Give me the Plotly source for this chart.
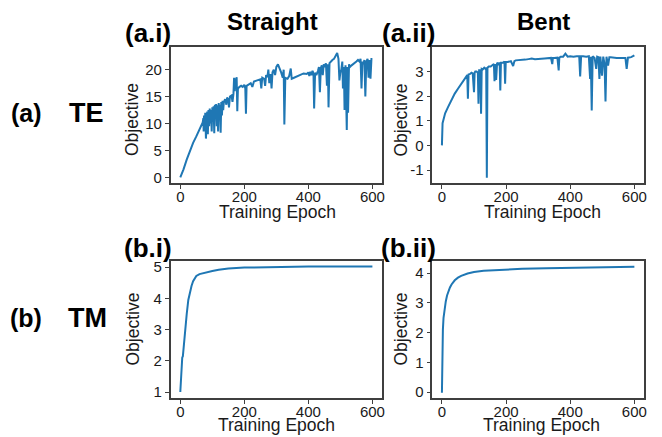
import plotly.graph_objects as go

# ---------------- data ----------------
te_straight_epoch = [0, 5, 10, 20, 30, 40, 50, 60, 70, 72, 73, 74, 76, 78, 80, 82, 84, 86, 88, 90, 92, 94, 96, 98,
                     100, 102, 104, 106, 108, 110, 112, 114, 116, 118, 120, 122, 124, 126, 128, 130, 132, 134, 136,
                     140, 144, 146, 150, 152, 155, 160, 163, 166, 168, 170, 172, 174, 176, 178, 180, 185, 190, 195,
                     200, 203, 205, 207, 215, 220, 225, 230, 240, 250, 253, 256, 262, 265, 268, 272, 275, 278, 282,
                     285, 288, 292, 296, 300, 305, 310, 315, 320, 323, 325, 328, 335, 340, 345, 348, 355, 365, 375,
                     385, 395, 400, 403, 406, 410, 413, 416, 418, 421, 425, 430, 433, 436, 439, 442, 445, 448, 452,
                     455, 458, 461, 463, 466, 470, 475, 480, 485, 490, 494, 497, 500, 503, 506, 508, 511, 513, 516,
                     518, 520, 522, 524, 527, 530, 535, 540, 545, 550, 555, 560, 563, 566, 569, 572, 575, 578, 581,
                     585, 588, 591, 594, 597, 600]
te_straight_obj = [0.0, 0.6, 1.5, 3.3, 5.0, 6.4, 7.6, 8.8, 10.2, 11.0, 8.5, 11.5, 9.0, 12.0, 7.2, 11.5, 12.2, 8.0,
                   12.5, 9.5, 12.8, 10.0, 12.5, 8.5, 13.0, 10.5, 13.2, 8.2, 13.5, 11.0, 13.6, 9.5, 13.4, 8.5, 13.8,
                   12.0, 13.5, 8.3, 14.0, 11.5, 14.2, 12.5, 14.0, 14.5, 13.5, 14.8, 14.5, 13.0, 15.0, 15.2, 14.0,
                   15.5, 18.5, 16.0, 18.4, 17.0, 18.6, 12.3, 16.5, 16.8, 17.0, 16.8, 17.2, 16.5, 11.8, 17.0, 17.3,
                   17.5, 16.8, 17.8, 18.0, 18.2, 16.5, 18.5, 18.3, 17.0, 19.0, 18.6, 20.0, 17.5, 19.2, 16.5, 19.5,
                   20.0, 19.0, 20.5, 21.0, 20.3, 19.5, 18.5, 20.0, 9.8, 18.5, 18.3, 18.8, 20.2, 18.3, 18.5, 18.8,
                   19.0, 19.3, 19.2, 19.5, 18.8, 19.6, 19.0, 19.8, 19.3, 12.8, 19.4, 19.0, 19.8, 20.5, 15.8, 20.3,
                   20.8, 19.0, 21.0, 20.5, 21.2, 17.0, 21.0, 13.0, 21.2, 21.5, 21.8, 22.0, 22.5, 23.1, 22.0, 18.0,
                   19.5, 20.0, 21.5, 16.5, 20.5, 12.5, 20.8, 13.5, 8.8, 20.5, 12.0, 21.0, 20.5, 20.8, 21.0, 21.2,
                   21.5, 21.8, 21.5, 22.0, 16.5, 21.5, 21.0, 21.8, 15.0, 21.5, 22.0, 18.5, 21.8, 18.3, 22.0, 22.0]

te_bent_epoch = [0, 1, 2, 5, 10, 19, 30, 40, 50, 65, 76, 79, 81, 83, 88, 92, 96, 100, 102, 104, 108, 112, 114,
                 116, 120, 122, 124, 127, 132, 136, 138, 140, 142, 146, 152, 158, 162, 164, 166, 169, 172, 176,
                 180, 182, 184, 190, 195, 197, 199, 205, 215, 222, 226, 230, 240, 250, 260, 270, 280, 290, 300,
                 310, 320, 330, 340, 344, 346, 350, 360, 364, 366, 370, 378, 385, 392, 400, 410, 420, 428, 431,
                 434, 440, 450, 458, 462, 464, 467, 470, 476, 481, 484, 488, 491, 494, 499, 503, 507, 510, 513,
                 518, 522, 526, 535, 545, 555, 565, 572, 576, 580, 590, 600]
te_bent_obj = [0.0, 0.8, 0.9, 1.05, 1.3, 1.55, 1.85, 2.1, 2.3, 2.56, 2.8, 2.85, 1.89, 2.88, 2.9, 2.95, 2.92, 2.16,
               2.95, 3.0, 3.0, 2.95, 1.69, 3.05, 3.05, 1.28, 3.1, 3.08, 3.15, 3.1, 3.15, -1.31, 3.15, 3.2, 3.2,
               3.25, 3.3, 2.6, 3.3, 2.66, 3.35, 3.3, 3.35, 2.23, 3.35, 3.35, 3.4, 2.5, 3.38, 3.38, 3.42, 3.22, 3.42,
               3.45, 3.45, 3.48, 3.48, 3.5, 3.52, 3.5, 3.52, 3.52, 3.53, 3.55, 3.55, 3.3, 3.55, 3.55, 3.56, 3.04,
               3.56, 3.6, 3.6, 3.72, 3.6, 3.62, 3.6, 3.62, 3.62, 2.8, 3.62, 3.62, 3.6, 3.62, 2.7, 3.6, 1.42, 3.62,
               3.55, 3.1, 3.6, 3.58, 2.7, 3.6, 2.83, 3.6, 3.3, 1.78, 3.6, 3.24, 3.58, 3.58, 3.56, 3.55, 3.55, 3.55,
               3.55, 3.1, 3.56, 3.58, 3.65]

tm_straight_epoch = [0, 2, 4, 6, 8, 10, 13, 16, 20, 25, 30, 35, 40, 45, 50, 60, 70, 80, 100, 120, 150, 200, 250,
                     300, 400, 500, 600]
tm_straight_obj = [1.0, 1.5, 1.9, 2.1, 2.15, 2.4, 2.8, 3.1, 3.5, 3.95, 4.2, 4.4, 4.55, 4.65, 4.72, 4.78, 4.81,
                   4.84, 4.88, 4.92, 4.96, 4.99, 5.0, 5.01, 5.02, 5.02, 5.02]

tm_bent_epoch = [0, 1, 2, 3, 5, 8, 12, 16, 20, 25, 30, 40, 50, 60, 80, 100, 130, 170, 250, 325, 400, 500, 600]
tm_bent_obj = [-0.02, 1.0, 1.7, 2.1, 2.5, 2.8, 3.05, 3.25, 3.38, 3.52, 3.62, 3.76, 3.85, 3.91, 3.99, 4.04, 4.08,
               4.11, 4.15, 4.17, 4.19, 4.2, 4.22]

x_ticks = [0, 200, 400, 600]
y_ticks_te_straight = [0, 5, 10, 15, 20]
y_ticks_te_bent = [-1, 0, 1, 2, 3]
y_ticks_te_bent_text = ["-1", "0", "1", "2", "3"]
y_ticks_tm_straight = [1, 2, 3, 4, 5]
y_ticks_tm_bent = [0, 1, 2, 3, 4]

col_titles = ["Straight", "Bent"]
panel_labels = ["(a.i)", "(a.ii)", "(b.i)", "(b.ii)"]
row_labels = [("(a)", "TE"), ("(b)", "TM")]
x_title = "Training Epoch"
y_title = "Objective"

# ---------------- figure ----------------
W, H = 662, 437
FONT = "Liberation Sans, Arial, Helvetica, sans-serif"
C0 = "#1f77b4"
FRAME = "#3f3f3f"

def px_x(p):
    return p / W

def px_y(p):
    return 1 - p / H

fig = go.Figure()
series = [
    (te_straight_epoch, te_straight_obj, "x", "y"),
    (te_bent_epoch, te_bent_obj, "x2", "y2"),
    (tm_straight_epoch, tm_straight_obj, "x3", "y3"),
    (tm_bent_epoch, tm_bent_obj, "x4", "y4"),
]
for xs, ys, xa, ya in series:
    fig.add_trace(go.Scatter(x=xs, y=ys, mode="lines", xaxis=xa, yaxis=ya,
                             line=dict(color=C0, width=2), showlegend=False))

col_dom = [[px_x(170.7), px_x(382)], [px_x(432.3), px_x(644)]]
row_dom = [[px_y(183.3), px_y(47.3)], [px_y(398.3), px_y(261)]]

common = dict(showline=True, mirror=True, linecolor=FRAME, linewidth=1.5, showgrid=False, zeroline=False,
              ticks="outside", ticklen=4, tickwidth=1.2, tickcolor=FRAME,
              tickfont=dict(family=FONT, size=15, color="#1a1a1a"))

y_specs = [
    ([-1.1, 24.15], y_ticks_te_straight, [str(v) for v in y_ticks_te_straight]),
    ([-1.54, 3.98], y_ticks_te_bent, y_ticks_te_bent_text),
    ([0.8, 5.2], y_ticks_tm_straight, [str(v) for v in y_ticks_tm_straight]),
    ([-0.21, 4.41], y_ticks_tm_bent, [str(v) for v in y_ticks_tm_bent]),
]
layout_axes = {}
for i in range(4):
    r, c = divmod(i, 2)
    sfx = "" if i == 0 else str(i + 1)
    layout_axes["xaxis" + sfx] = dict(common, domain=col_dom[c], anchor="y" + sfx, range=[-30, 630],
                                      tickvals=x_ticks, ticktext=[str(v) for v in x_ticks],
                                      ticklabelstandoff=-5)
    rng, tv, tt = y_specs[i]
    layout_axes["yaxis" + sfx] = dict(common, domain=row_dom[r], anchor="x" + sfx, range=rng,
                                      tickvals=tv, ticktext=tt)

annotations = []
def add_text(text, x, y, size, xanchor="center", angle=0, bold=True, color="black"):
    annotations.append(dict(text=("<b>%s</b>" % text) if bold else text, x=px_x(x), y=px_y(y),
                            xref="paper", yref="paper", textangle=angle,
                            xanchor=xanchor, yanchor="middle", showarrow=False,
                            font=dict(family=FONT, size=size, color=color)))

add_text(col_titles[0], 272.5, 22, 24)
add_text(col_titles[1], 543.3, 22, 24)
add_text(panel_labels[0], 147.8, 33, 26)
add_text(panel_labels[1], 408.5, 33, 26)
add_text(panel_labels[2], 147.8, 248, 26)
add_text(panel_labels[3], 408.5, 248, 26)
add_text(row_labels[0][0], 26, 113, 25)
add_text(row_labels[0][1], 67, 113, 27, xanchor="left")
add_text(row_labels[1][0], 26, 318, 25)
add_text(row_labels[1][1], 66, 318, 27, xanchor="left")

# axis titles
for x, y in [(277.8, 212), (542.5, 212), (276.7, 425), (541.7, 425)]:
    add_text(x_title, x, y, 17.5, bold=False, color="#1a1a1a")
for x, y in [(132, 120), (400.5, 120), (132.5, 329), (400.5, 329)]:
    add_text(y_title, x, y, 17.5, angle=-90, bold=False, color="#1a1a1a")

fig.update_layout(width=W, height=H, margin=dict(l=0, r=0, t=0, b=0, autoexpand=False),
                  paper_bgcolor="white", plot_bgcolor="white", annotations=annotations,
                  **layout_axes)

fig.write_html("out.html", config={"displayModeBar": False},
               post_script="document.body.style.margin='0';document.body.style.overflow='hidden';")
